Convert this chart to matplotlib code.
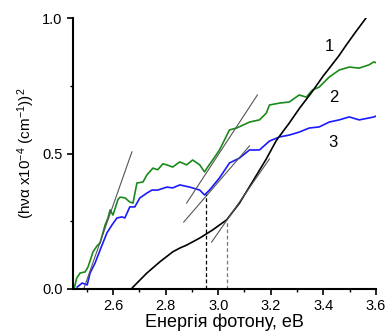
import matplotlib
matplotlib.use("Agg")
import matplotlib.pyplot as plt
from matplotlib.ticker import MultipleLocator

plt.rcParams['font.family'] = ['Liberation Sans', 'DejaVu Sans']
plt.rcParams['mathtext.fontset'] = 'custom'
plt.rcParams['mathtext.rm'] = 'Liberation Sans'
plt.rcParams['mathtext.it'] = 'Liberation Sans:italic'

# Curve 1 (black)
x1 = [2.670, 2.676, 2.729, 2.778, 2.827, 2.854, 2.880, 2.930, 2.948, 2.979, 3.032, 3.081,
      3.130, 3.183, 3.221, 3.270, 3.310, 3.358, 3.400, 3.422, 3.460, 3.486, 3.520, 3.562]
y1 = [0.000, 0.007, 0.059, 0.100, 0.137, 0.151, 0.162, 0.188, 0.199, 0.218, 0.255, 0.317,
      0.395, 0.480, 0.548, 0.612, 0.668, 0.729, 0.787, 0.814, 0.862, 0.899, 0.945, 1.000]

# Curve 2 (green)
x2 = [2.452, 2.462, 2.475, 2.494, 2.505, 2.515, 2.524, 2.540, 2.551, 2.570, 2.581, 2.589,
      2.600, 2.619, 2.627, 2.646, 2.664, 2.676, 2.691, 2.714, 2.729, 2.752, 2.770, 2.790,
      2.805, 2.827, 2.854, 2.880, 2.903, 2.930, 2.948, 2.960, 2.979, 3.005, 3.043, 3.070,
      3.095, 3.119, 3.157, 3.183, 3.195, 3.233, 3.270, 3.308, 3.335, 3.358, 3.384, 3.422,
      3.460, 3.498, 3.536, 3.573, 3.592, 3.600]
y2 = [0.000, 0.040, 0.059, 0.063, 0.081, 0.110, 0.137, 0.160, 0.170, 0.236, 0.262, 0.292,
      0.273, 0.330, 0.339, 0.336, 0.321, 0.317, 0.391, 0.395, 0.421, 0.446, 0.440, 0.462,
      0.458, 0.450, 0.469, 0.458, 0.476, 0.458, 0.432, 0.450, 0.476, 0.513, 0.587, 0.594,
      0.605, 0.616, 0.624, 0.649, 0.679, 0.686, 0.690, 0.716, 0.708, 0.734, 0.745, 0.782,
      0.808, 0.819, 0.815, 0.827, 0.838, 0.835]

# Curve 3 (blue)
x3 = [2.464, 2.483, 2.502, 2.513, 2.532, 2.551, 2.577, 2.596, 2.615, 2.634, 2.645, 2.664,
      2.683, 2.702, 2.729, 2.748, 2.770, 2.805, 2.827, 2.854, 2.892, 2.930, 2.948, 2.967,
      3.005, 3.043, 3.081, 3.119, 3.157, 3.195, 3.233, 3.270, 3.308, 3.346, 3.384, 3.422,
      3.460, 3.498, 3.536, 3.573, 3.592, 3.600]
y3 = [0.007, 0.022, 0.015, 0.059, 0.096, 0.144, 0.207, 0.236, 0.262, 0.266, 0.262, 0.303,
      0.303, 0.336, 0.354, 0.365, 0.365, 0.376, 0.373, 0.384, 0.376, 0.365, 0.347, 0.365,
      0.410, 0.465, 0.483, 0.513, 0.513, 0.546, 0.561, 0.568, 0.579, 0.594, 0.598, 0.616,
      0.624, 0.635, 0.624, 0.631, 0.635, 0.638]

# Tangent lines (x0, x1), (y0, y1)
tangents = [
    ([2.490, 2.672], [0.004, 0.506]),
    ([2.880, 3.149], [0.317, 0.716]),
    ([2.869, 3.119], [0.247, 0.528]),
    ([2.975, 3.195], [0.173, 0.480]),
]

# Dashed markers (x, top y)
gap_x = [2.952, 3.032]
gap_top = [0.350, 0.255]

labels = ['1', '2', '3']
label_x = [3.422, 3.441, 3.437]
label_y = [0.893, 0.708, 0.539]

fig = plt.figure(figsize=(3.89, 3.31), dpi=100)
ax = fig.add_axes([73/389, 42/331, 303/389, 271/331])

ax.plot(x2, y2, color='#1a8a1a', lw=1.2)
ax.plot(x3, y3, color='#1a1aff', lw=1.2)
ax.plot(x1, y1, color='black', lw=1.2)
for tx, ty in tangents:
    ax.plot(tx, ty, color='#555555', lw=0.8)

ax.plot([gap_x[0], gap_x[0]], [0, gap_top[0]], color='black', lw=0.9, ls=(0, (3, 2)))
ax.plot([gap_x[1], gap_x[1]], [0, gap_top[1]], color='#777777', lw=0.9, ls=(0, (3, 2)))

for t, lx, ly in zip(labels, label_x, label_y):
    ax.text(lx, ly, t, fontsize=12, ha='center', va='center')

ax.set_xlim(2.448, 3.6)
ax.set_ylim(0, 1.0)
ax.xaxis.set_major_locator(MultipleLocator(0.2))
ax.xaxis.set_minor_locator(MultipleLocator(0.1))
ax.yaxis.set_major_locator(MultipleLocator(0.5))
ax.yaxis.set_minor_locator(MultipleLocator(0.25))
ax.set_xticks([2.6, 2.8, 3.0, 3.2, 3.4, 3.6])
ax.spines['top'].set_visible(False)
ax.spines['right'].set_visible(False)
ax.spines['left'].set_linewidth(1.5)
ax.spines['bottom'].set_linewidth(1.5)
ax.tick_params(which='major', direction='out', length=4, width=1.2, labelsize=10.5)
ax.tick_params(which='minor', direction='out', length=2.5, width=1.0)
ax.set_yticks([0.0, 0.5, 1.0])
ax.set_yticklabels(['0.0', '0.5', '1.0'])
ax.set_xlabel('Енергія фотону, еВ', fontsize=13, labelpad=0)
ax.set_ylabel('(hνα x10$^{-4}$ (cm$^{-1}$))$^2$', fontsize=11, labelpad=4)

fig.savefig('out.png', dpi=100)
